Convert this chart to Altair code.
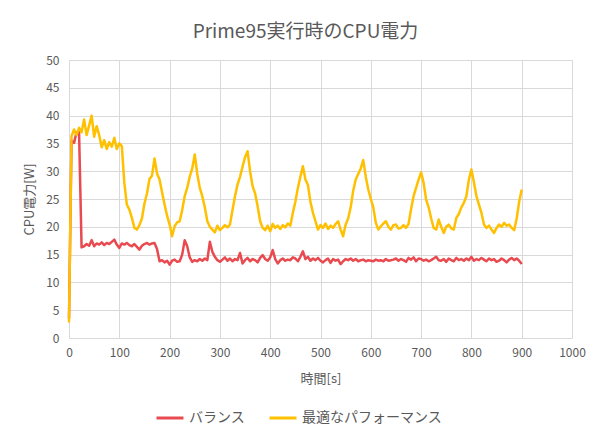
import altair as alt
import pandas as pd

FONT = "Noto Sans CJK JP"
TEXT = "#595959"

title_text = "Prime95実行時のCPU電力"
x_title = "時間[s]"
y_title = "CPU電力[W]"
series_names = ["バランス", "最適なパフォーマンス"]
series_colors = ["#E84A4F", "#FFC000"]

seconds = list(range(0, 905, 5))

balance = [
    3.5, 35.5, 35.1, 37.0, 37.0, 16.3, 16.5, 16.9, 16.6, 17.6,
    16.5, 17.0, 16.8, 17.2, 16.7, 17.1, 16.9, 17.3, 17.7, 16.8,
    16.2, 17.0, 16.8, 17.1, 16.7, 16.5, 16.9, 16.4, 15.9, 16.6,
    16.9, 17.1, 16.8, 17.0, 17.1, 16.0, 13.8, 14.0, 13.6, 13.9,
    13.2, 13.9, 14.1, 13.7, 13.8, 15.0, 17.6, 16.5, 14.5, 13.7,
    14.0, 13.8, 14.2, 13.9, 14.3, 14.0, 17.3, 15.5, 14.6, 14.0,
    13.7, 14.1, 14.5, 13.9, 14.3, 13.8, 14.2, 14.0, 15.3, 13.4,
    14.0, 14.4, 13.8, 14.2, 14.0, 13.6, 14.4, 14.9, 14.2, 13.9,
    14.5, 15.8, 14.2, 13.4, 14.0, 14.3, 13.9, 14.1, 14.0, 14.5,
    14.3, 13.8, 14.6, 15.6, 14.2, 14.6, 13.9, 14.3, 14.0, 14.4,
    13.9, 13.6, 14.0, 14.3, 13.5, 14.2, 13.9, 14.1, 13.3, 13.8,
    14.2, 14.0, 14.3, 13.9, 14.2, 13.8, 14.0, 14.1, 13.8, 14.0,
    13.9, 13.8, 14.1, 13.9, 14.0, 13.8, 14.2, 13.9, 14.0, 14.1,
    14.3, 13.9, 14.2, 14.0, 13.7, 14.4, 14.1, 14.5, 13.8, 14.3,
    14.2, 13.9, 14.1, 13.8, 14.0, 14.3, 14.6, 14.0, 13.9, 14.2,
    13.7, 14.3, 14.0, 13.8, 14.4, 14.0, 14.2, 13.9, 14.3, 14.0,
    14.6, 13.9, 14.2, 14.0, 14.4, 14.1, 13.8, 14.3, 14.0, 14.2,
    13.7, 13.9, 14.3, 14.0, 13.6, 14.1, 14.4, 14.0, 14.3, 13.9,
    13.3,
]

performance = [
    2.8, 36.3, 37.5, 36.5, 37.8, 37.0, 39.3, 36.5, 38.2, 40.0,
    36.2, 38.1, 36.5, 34.3, 35.6, 34.0, 35.2, 34.4, 36.0, 34.0,
    35.0, 34.5, 27.9, 24.0, 23.1, 21.6, 19.8, 19.5, 20.3, 21.5,
    24.2, 26.0, 28.6, 29.2, 32.3, 29.6, 28.5, 26.2, 24.0, 22.0,
    20.4, 18.3, 20.1, 20.8, 21.0, 23.0, 25.5, 27.0, 29.0, 30.5,
    33.0, 29.5, 27.0, 25.5, 23.5, 21.0, 20.0, 19.5, 19.0, 20.2,
    19.4, 19.8, 20.3, 19.9, 20.4, 23.0, 25.5, 27.6, 29.0, 30.8,
    32.5, 33.6, 30.0, 27.3, 26.0, 23.7, 21.0, 19.8, 19.4, 20.2,
    19.2, 20.5, 19.8, 20.2, 19.6, 20.3, 19.9, 20.6, 20.2, 22.5,
    24.5, 27.0, 29.0, 30.9, 28.5, 27.5, 24.5, 22.5, 21.0, 19.5,
    20.3, 19.8, 20.6, 19.6, 20.2, 19.8, 20.5, 21.0, 19.5, 18.3,
    20.4, 21.5, 23.5, 26.5, 28.5, 29.5, 30.5, 32.0, 29.0, 26.7,
    25.0, 23.5, 20.7, 19.5, 20.1, 20.6, 21.0, 20.0, 19.5, 20.3,
    20.4, 19.7, 19.8, 20.3, 19.8, 20.5, 23.1, 25.5, 27.0, 28.5,
    29.8, 27.9, 24.9, 23.5, 21.5, 19.8, 19.5, 21.3, 20.0, 18.9,
    20.0, 20.4, 19.7, 19.5, 21.6, 22.3, 23.5, 24.3, 25.5, 28.5,
    30.3, 28.0, 25.5, 24.0, 22.5, 20.4, 19.8, 20.2, 19.5, 18.9,
    19.8, 20.4, 20.0, 20.7, 20.2, 20.4, 19.8, 19.4, 21.5, 24.5,
    26.7,
]

x_ticks = [0, 100, 200, 300, 400, 500, 600, 700, 800, 900, 1000]
y_ticks = [0, 5, 10, 15, 20, 25, 30, 35, 40, 45, 50]

rows = []
for name, vals in zip(series_names, [balance, performance]):
    for t, v in zip(seconds, vals):
        rows.append({"t": t, "w": v, "series": name})
df = pd.DataFrame(rows)

chart = (
    alt.Chart(df)
    .mark_line(strokeWidth=2.5, strokeJoin="round")
    .encode(
        x=alt.X(
            "t:Q",
            scale=alt.Scale(domain=[0, 1000], nice=False, zero=False),
            axis=alt.Axis(
                title=x_title,
                values=x_ticks,
                format="d",
                labelFlush=False,
                labelPadding=9,
                titlePadding=14,
            ),
        ),
        y=alt.Y(
            "w:Q",
            scale=alt.Scale(domain=[0, 50], nice=False),
            axis=alt.Axis(
                title=y_title,
                values=y_ticks,
                labelPadding=10,
                titlePadding=9,
            ),
        ),
        color=alt.Color(
            "series:N",
            scale=alt.Scale(domain=series_names, range=series_colors),
            legend=alt.Legend(
                title=None,
                orient="none",
                legendX=86,
                legendY=343,
                direction="horizontal",
                symbolType="stroke",
                symbolSize=729,
                symbolStrokeWidth=3,
                labelFontSize=14,
                labelFont=FONT,
                labelColor=TEXT,
                labelOffset=4,
                columnPadding=18,
                padding=0,
            ),
        ),
        order=alt.Order("t:Q"),
    )
    .properties(
        width=503,
        height=278,
        title=alt.TitleParams(
            text=title_text,
            font=FONT,
            fontSize=19,
            fontWeight="normal",
            color=TEXT,
            dx=-15,
            offset=12,
        ),
        autosize=alt.AutoSizeParams(type="none"),
        padding={"left": 61, "top": 52, "right": 18, "bottom": 94},
    )
    .configure_view(stroke=None)
    .configure_axis(
        grid=True,
        gridColor="#D9D9D9",
        gridWidth=1,
        domain=False,
        ticks=False,
        labelFont=FONT,
        labelFontSize=12,
        labelColor=TEXT,
        titleFont=FONT,
        titleFontSize=13,
        titleFontWeight="normal",
        titleColor=TEXT,
    )
)

chart.save("out.html", embed_options={"renderer": "svg", "actions": False})
